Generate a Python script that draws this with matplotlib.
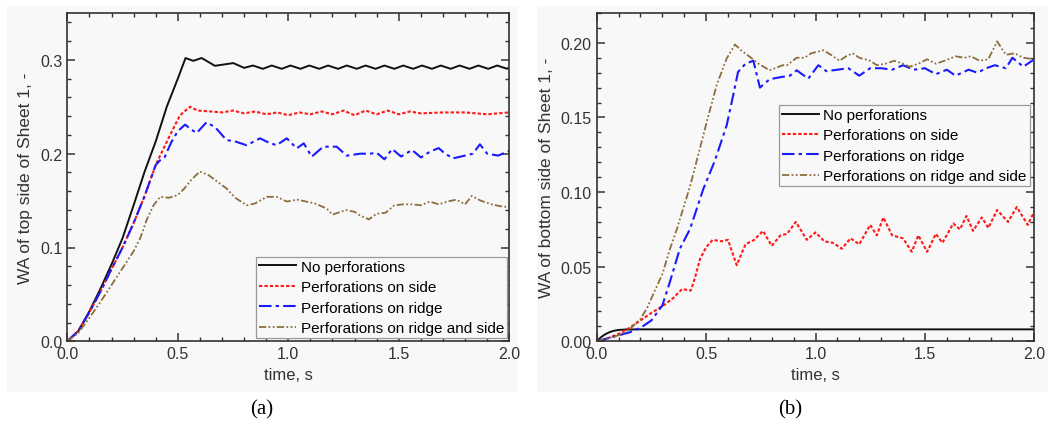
"""Water accumulation on Sheet 1: top side (a) and bottom side (b)."""

import matplotlib.pyplot as plt
from matplotlib.patches import Rectangle
from matplotlib.ticker import MultipleLocator

plt.rcParams['font.family'] = ['Liberation Sans', 'DejaVu Sans']

# -----------------------------------------------------------------------
# Data
# -----------------------------------------------------------------------

labels = [
    'No perforations',
    'Perforations on side',
    'Perforations on ridge',
    'Perforations on ridge and side',
]

# (a) top side
t_a_none = [0, 0.05, 0.1, 0.15, 0.2, 0.25, 0.3, 0.35, 0.4, 0.45, 0.5,
            0.535, 0.57, 0.608, 0.668, 0.751, 0.80, 0.84, 0.885, 0.925,
            0.97, 1.01, 1.055, 1.095, 1.14, 1.18, 1.225, 1.265, 1.31,
            1.35, 1.395, 1.435, 1.48, 1.52, 1.565, 1.605, 1.65, 1.69,
            1.735, 1.775, 1.82, 1.86, 1.905, 1.945, 1.99, 2.0]
v_a_none = [0, 0.011, 0.032, 0.056, 0.082, 0.11, 0.145, 0.181, 0.213,
            0.25, 0.28, 0.302, 0.299, 0.302, 0.2937, 0.2966, 0.2915,
            0.294, 0.2905, 0.294, 0.2905, 0.294, 0.2905, 0.294, 0.2905,
            0.294, 0.2905, 0.294, 0.2905, 0.294, 0.2905, 0.294, 0.2905,
            0.294, 0.2905, 0.294, 0.2905, 0.294, 0.2905, 0.294, 0.2905,
            0.294, 0.2905, 0.294, 0.2905, 0.292]

t_a_side = [0, 0.05, 0.1, 0.15, 0.2, 0.25, 0.3, 0.35, 0.4, 0.465, 0.51,
            0.555, 0.59, 0.65, 0.7, 0.75, 0.8, 0.85, 0.9, 0.95, 1.0,
            1.05, 1.1, 1.15, 1.2, 1.25, 1.3, 1.35, 1.4, 1.45, 1.5, 1.55,
            1.6, 1.7, 1.8, 1.9, 2.0]
v_a_side = [0, 0.011, 0.031, 0.053, 0.077, 0.10, 0.126, 0.155, 0.188,
            0.22, 0.241, 0.250, 0.246, 0.245, 0.244, 0.246, 0.243, 0.245,
            0.242, 0.244, 0.241, 0.244, 0.242, 0.245, 0.242, 0.246, 0.241,
            0.246, 0.242, 0.246, 0.242, 0.245, 0.243, 0.244, 0.244, 0.242,
            0.244]

t_a_ridge = [0, 0.05, 0.1, 0.15, 0.2, 0.25, 0.3, 0.35, 0.4, 0.42, 0.44,
             0.47, 0.5, 0.533, 0.56, 0.585, 0.63, 0.67, 0.72, 0.76, 0.812,
             0.872, 0.91, 0.947, 0.993, 1.038, 1.07, 1.106, 1.158, 1.219,
             1.264, 1.325, 1.37, 1.4, 1.435, 1.47, 1.51, 1.56, 1.6, 1.64,
             1.68, 1.71, 1.745, 1.8, 1.835, 1.867, 1.9, 1.95, 2.0]
v_a_ridge = [0, 0.011, 0.031, 0.053, 0.077, 0.10, 0.126, 0.155, 0.188,
             0.193, 0.196, 0.212, 0.224, 0.231, 0.226, 0.222, 0.2335,
             0.228, 0.2146, 0.213, 0.209, 0.2164, 0.212, 0.209, 0.2164,
             0.2057, 0.211, 0.1968, 0.2075, 0.2075, 0.1979, 0.200, 0.200,
             0.201, 0.194, 0.205, 0.197, 0.204, 0.196, 0.202, 0.206, 0.200,
             0.195, 0.198, 0.200, 0.210, 0.200, 0.198, 0.203]

t_a_both = [0, 0.05, 0.1, 0.15, 0.2, 0.25, 0.3, 0.33, 0.36, 0.39, 0.42,
            0.46, 0.5, 0.53, 0.56, 0.6, 0.64, 0.68, 0.72, 0.76, 0.812,
            0.85, 0.902, 0.947, 0.993, 1.04, 1.08, 1.12, 1.174, 1.2, 1.26,
            1.3, 1.325, 1.365, 1.4, 1.44, 1.48, 1.52, 1.56, 1.6, 1.64,
            1.68, 1.72, 1.76, 1.8, 1.83, 1.87, 1.92, 1.96, 2.0]
v_a_both = [0, 0.009, 0.025, 0.042, 0.06, 0.078, 0.096, 0.11, 0.13, 0.145,
            0.154, 0.153, 0.156, 0.163, 0.172, 0.181, 0.177, 0.17, 0.163,
            0.153, 0.145, 0.147, 0.154, 0.154, 0.149, 0.151, 0.149, 0.147,
            0.1415, 0.135, 0.14, 0.138, 0.134, 0.13, 0.136, 0.137, 0.145,
            0.146, 0.146, 0.145, 0.149, 0.146, 0.149, 0.151, 0.146, 0.155,
            0.15, 0.146, 0.144, 0.143]

# (b) bottom side
t_b_none = [0, 0.02, 0.04, 0.06, 0.08, 0.1, 0.13, 0.2, 0.5, 1.0, 1.5, 2.0]
v_b_none = [0, 0.0028, 0.0048, 0.0062, 0.0071, 0.0076, 0.0079, 0.008,
            0.008, 0.008, 0.008, 0.008]

t_b_side = [0, 0.05, 0.1, 0.15, 0.2, 0.25, 0.305, 0.35, 0.39, 0.43, 0.45,
            0.472, 0.5, 0.53, 0.57, 0.6, 0.64, 0.68, 0.72, 0.76, 0.8,
            0.84, 0.87, 0.91, 0.96, 1.0, 1.04, 1.08, 1.12, 1.16, 1.2,
            1.25, 1.28, 1.31, 1.35, 1.4, 1.44, 1.47, 1.51, 1.55, 1.58,
            1.63, 1.66, 1.69, 1.72, 1.76, 1.79, 1.83, 1.88, 1.92, 1.97,
            2.0]
v_b_side = [0, 0.002, 0.005, 0.009, 0.014, 0.019, 0.024, 0.029, 0.035,
            0.034, 0.043, 0.055, 0.063, 0.068, 0.067, 0.068, 0.051, 0.065,
            0.068, 0.074, 0.064, 0.071, 0.072, 0.080, 0.068, 0.073, 0.067,
            0.066, 0.062, 0.069, 0.065, 0.078, 0.071, 0.083, 0.071, 0.069,
            0.060, 0.071, 0.060, 0.072, 0.066, 0.079, 0.075, 0.084, 0.074,
            0.083, 0.076, 0.088, 0.080, 0.090, 0.078, 0.087]

t_b_ridge = [0, 0.05, 0.1, 0.15, 0.2, 0.25, 0.3, 0.335, 0.38, 0.427,
             0.487, 0.54, 0.594, 0.624, 0.646, 0.68, 0.716, 0.746, 0.79,
             0.84, 0.883, 0.914, 0.967, 1.013, 1.05, 1.1, 1.15, 1.2, 1.25,
             1.3, 1.35, 1.4, 1.45, 1.5, 1.55, 1.6, 1.64, 1.7, 1.74, 1.78,
             1.82, 1.87, 1.9, 1.95, 2.0]
v_b_ridge = [0, 0.002, 0.004, 0.006, 0.009, 0.014, 0.024, 0.040, 0.062,
             0.0754, 0.102, 0.121, 0.1447, 0.165, 0.1805, 0.186, 0.188,
             0.170, 0.1756, 0.177, 0.178, 0.1816, 0.176, 0.185, 0.181,
             0.182, 0.183, 0.178, 0.183, 0.183, 0.182, 0.185, 0.182, 0.183,
             0.179, 0.182, 0.178, 0.182, 0.180, 0.183, 0.185, 0.183, 0.190,
             0.184, 0.189]

t_b_both = [0, 0.05, 0.1, 0.15, 0.2, 0.229, 0.3, 0.335, 0.366, 0.427,
            0.503, 0.548, 0.594, 0.632, 0.66, 0.70, 0.74, 0.79, 0.85, 0.87,
            0.914, 0.95, 0.98, 1.036, 1.07, 1.11, 1.14, 1.17, 1.2, 1.25,
            1.28, 1.32, 1.36, 1.4, 1.43, 1.47, 1.51, 1.55, 1.59, 1.64,
            1.68, 1.71, 1.75, 1.79, 1.83, 1.87, 1.91, 1.95, 2.0]
v_b_both = [0, 0.002, 0.004, 0.008, 0.015, 0.022, 0.045, 0.062, 0.075,
            0.104, 0.147, 0.1716, 0.1895, 0.1989, 0.195, 0.1906, 0.186,
            0.1816, 0.185, 0.185, 0.190, 0.190, 0.193, 0.195, 0.192, 0.188,
            0.191, 0.193, 0.190, 0.188, 0.185, 0.186, 0.188, 0.186, 0.184,
            0.186, 0.189, 0.186, 0.188, 0.191, 0.190, 0.191, 0.188, 0.189,
            0.201, 0.192, 0.193, 0.190, 0.189]

# -----------------------------------------------------------------------
# Styles
# -----------------------------------------------------------------------

BG = '#f8f8f8'
INK = '#333333'
STYLES = [
    dict(color='#111111', linestyle='-', linewidth=1.4),
    dict(color='#ff1a1a', linestyle=(0, (1.6, 1.0)), linewidth=1.5),
    dict(color='#1a1aff', linestyle=(0, (6, 2, 1.6, 2)), linewidth=1.5),
    dict(color='#8c6e3c', linestyle=(0, (4, 1.3, 1, 1.3, 1, 1.3)),
         linewidth=1.3),
]


def style_axes(ax, ymax, ymajor, yminor, yfmt):
    ax.set_facecolor(BG)
    ax.set_xlim(0, 2.0)
    ax.set_ylim(0, ymax)
    ax.xaxis.set_major_locator(MultipleLocator(0.5))
    ax.xaxis.set_minor_locator(MultipleLocator(0.1))
    ax.yaxis.set_major_locator(MultipleLocator(ymajor))
    ax.yaxis.set_minor_locator(MultipleLocator(yminor))
    ax.yaxis.set_major_formatter(yfmt)
    ax.tick_params(which='both', direction='in', top=True, right=True,
                   colors=INK, labelcolor=INK, labelsize=11.5)
    ax.tick_params(which='major', length=6, width=1.1)
    ax.tick_params(which='minor', length=3, width=1.0)
    for sp in ax.spines.values():
        sp.set_color(INK)
        sp.set_linewidth(1.2)
    ax.set_xlabel('time, s', fontsize=12, color=INK, labelpad=4)


fig = plt.figure(figsize=(10.48, 4.27), dpi=100)

# light grey panel backgrounds
for x0, x1 in [(7, 518), (537, 1048)]:
    fig.patches.append(Rectangle(
        (x0 / 1048, 1 - 393 / 427), (x1 - x0) / 1048, 386 / 427,
        transform=fig.transFigure, facecolor=BG, edgecolor='none',
        zorder=-10))

ax_a = fig.add_axes([67.3 / 1048, 1 - 342.3 / 427, 442 / 1048,
                     328.3 / 427])
ax_b = fig.add_axes([596.7 / 1048, 1 - 342.3 / 427, 437.6 / 1048,
                     328.3 / 427])

series_a = [(t_a_none, v_a_none), (t_a_side, v_a_side),
            (t_a_ridge, v_a_ridge), (t_a_both, v_a_both)]
series_b = [(t_b_none, v_b_none), (t_b_side, v_b_side),
            (t_b_ridge, v_b_ridge), (t_b_both, v_b_both)]

for (t, v), lab, st in zip(series_a, labels, STYLES):
    ax_a.plot(t, v, label=lab, **st)
for (t, v), lab, st in zip(series_b, labels, STYLES):
    ax_b.plot(t, v, label=lab, **st)

style_axes(ax_a, 0.35, 0.1, 0.02, '{x:.1f}')
style_axes(ax_b, 0.22, 0.05, 0.01, '{x:.2f}')
ax_a.set_ylabel('WA of top side of Sheet 1, -', fontsize=12.5,
                color=INK, labelpad=5)
ax_b.set_ylabel('WA of bottom side of Sheet 1, -', fontsize=12.5,
                color=INK, labelpad=5)

legend_kw = dict(fontsize=11, frameon=True, fancybox=False,
                 edgecolor='#999999', facecolor=BG, framealpha=1,
                 borderaxespad=0, handlelength=2.4, handletextpad=0.3,
                 labelspacing=0.42, borderpad=0.2)
leg = ax_a.legend(loc='lower right', bbox_to_anchor=(0.995, 0.01),
                  **legend_kw)
leg.get_frame().set_linewidth(0.9)
leg = ax_b.legend(loc='upper right', bbox_to_anchor=(0.99, 0.72),
                  **legend_kw)
leg.get_frame().set_linewidth(0.9)

fig.text(262 / 1048, 1 - 410 / 427, '(a)', ha='center', va='center',
         fontsize=15, family='Liberation Serif')
fig.text(790 / 1048, 1 - 410 / 427, '(b)', ha='center', va='center',
         fontsize=15, family='Liberation Serif')

fig.savefig('out.png', dpi=100)
